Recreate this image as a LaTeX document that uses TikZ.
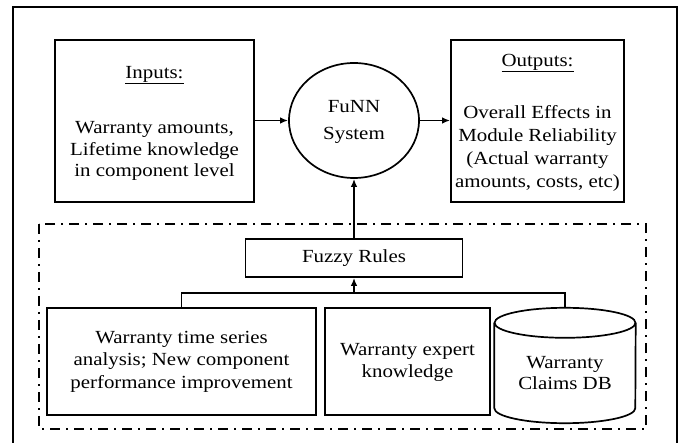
\documentclass[tikz,border=0pt]{standalone}
\usepackage{fontspec}
\setmainfont{Liberation Serif}[FakeStretch=1.13]
\usepackage{tikz}
\usetikzlibrary{positioning,shapes.geometric,arrows.meta}

\begin{document}
\begin{tikzpicture}[
  x=1pt, y=-1pt,
  box/.style={draw, rectangle, line width=1.7pt, inner sep=0pt},
  txt/.style={align=center, inner sep=0pt, font=\fontsize{18.5}{21.5}\selectfont},
  grp/.style={line width=1.5pt, dash pattern=on 10pt off 6pt on 2pt off 6pt},
  link/.style={line width=1.7pt},
  >={Latex[length=8pt,width=6.5pt]}
]
\useasboundingbox (0,0) rectangle (685,443);

% outer frame
\draw[line width=1.8pt] (13,460) -- (13,7) -- (677,7) -- (677,460);

\node[box, minimum width=199pt, minimum height=162pt] (inbox) at (154.5,121) {};
\node[txt] (intitle) at (154.5,75) {\underline{Inputs:}};
\node[txt] (intext) at (154.5,151) {Warranty amounts,\\Lifetime knowledge\\in component level};

\node[draw, ellipse, line width=1.7pt, minimum width=130pt, minimum height=115pt] (funn) at (354,120.5) {};
\node[txt, font=\fontsize{18.5}{27}\selectfont] (funntext) at (354,122) {FuNN\\System};

\node[box, minimum width=173pt, minimum height=162pt] (outbox) at (537.5,121) {};
\node[txt] (outtitle) at (537.5,63) {\underline{Outputs:}};
\node[txt, font=\fontsize{18.5}{23}\selectfont] (outtext) at (537.5,148) {Overall Effects in\\Module Reliability\\(Actual warranty\\amounts, costs, etc)};

\draw[grp] (39,224) rectangle (646,429);

\node[box, minimum width=217pt, minimum height=38pt] (fuzzy) at (354,258) {};
\node[txt] (fuzzytext) at (fuzzy) {Fuzzy Rules};

\node[box, minimum width=269pt, minimum height=107pt] (series) at (181.5,361.5) {};
\node[txt, font=\fontsize{18.5}{22.5}\selectfont] (seriestext) at (series) {Warranty time series\\analysis; New component\\performance improvement};

\node[box, minimum width=165pt, minimum height=107pt] (expert) at (407.5,361.5) {};
\node[txt] (experttext) at (407.5,362.5) {Warranty expert\\knowledge};

\node[minimum width=141pt, minimum height=115pt, inner sep=0pt] (claims) at (565,365.5) {};
\draw[link] ([yshift=-15pt]claims.north) ellipse [x radius=70.5pt, y radius=15pt];
\draw[link] ([yshift=-15pt]claims.north west) -- ([yshift=15pt]claims.south west)
  arc[start angle=180, end angle=360, x radius=70.5pt, y radius=15pt] -- ([yshift=-15pt]claims.north east);
\node[txt] (claimstext) at (565,373) {Warranty\\Claims DB};

\coordinate (junc) at (354,293);

\draw[link,->] (inbox.east |- funn.west) -- (funn.west);
\draw[link,->] (funn.east) -- (outbox.west |- funn.east);
\draw[link,->] (fuzzy.north) -- (funn.south);
\draw[link] (series.north) |- (junc) -| (claims.north);
\draw[link,->] (junc) -- (fuzzy.south);

\end{tikzpicture}
\end{document}
